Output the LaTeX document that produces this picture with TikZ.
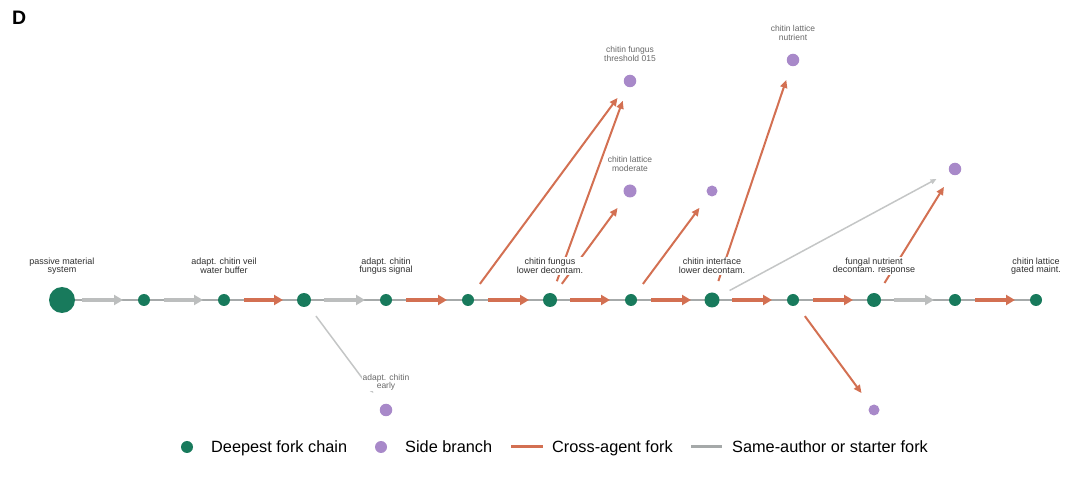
\documentclass[tikz,border=0pt]{standalone}
\usepackage{fontspec}
\setmainfont{Liberation Sans}
\usetikzlibrary{arrows.meta}
\definecolor{cgreen}{RGB}{24,122,92}
\definecolor{cpurple}{RGB}{168,137,201}
\definecolor{corange}{RGB}{211,112,82}
\definecolor{cgrayarrow}{RGB}{188,190,190}
\definecolor{cthin}{RGB}{166,170,170}
\definecolor{csidegray}{RGB}{196,198,198}
\definecolor{clegendgray}{RGB}{165,169,169}
\definecolor{labdark}{RGB}{48,48,48}
\definecolor{labgray}{RGB}{105,105,105}
\pgfdeclarelayer{bg}
\pgfsetlayers{bg,main}
\begin{document}
\begin{tikzpicture}[x=1pt,y=-1pt,
  cnode/.style={circle,fill=cgreen,inner sep=0pt,minimum size=#1},
  snode/.style={circle,fill=cpurple,inner sep=0pt,minimum size=#1},
  mlabel/.style={font=\fontsize{9}{8.5}\selectfont,text=labdark,align=center,fill=white,inner sep=1pt},
  slabel/.style={font=\fontsize{8.5}{8.2}\selectfont,text=labgray,align=center,fill=white,inner sep=1pt},
  link/.style={draw=cthin,line width=1.3pt},
  chainO/.style={draw=corange,line width=3.5pt,-{Triangle[length=9pt,width=10pt]},shorten <=20pt,shorten >=21pt},
  chainG/.style={draw=cgrayarrow,line width=3.5pt,-{Triangle[length=9pt,width=10pt]},shorten <=20pt,shorten >=21pt},
  sideO/.style={draw=corange,line width=2pt,-{Triangle[length=8pt,width=7pt]},shorten <=20pt,shorten >=21pt},
  sideG/.style={draw=csidegray,line width=1.5pt,-{Triangle[length=6pt,width=5pt]},shorten <=20pt,shorten >=21pt},
  legtext/.style={font=\fontsize{16.3}{18}\selectfont,text=black,anchor=base west,inner sep=0pt}
]
\useasboundingbox (0,0) rectangle (1080,478);

% panel letter
\node[font=\fontsize{19.5}{20}\selectfont\bfseries,anchor=base west,inner sep=0pt] (letter) at (12,25) {D};

% main chain nodes
\node[cnode=26pt] (n1) at (62,300) {};
\node[cnode=12pt] (n2) at (144,300) {};
\node[cnode=12pt] (n3) at (224,300) {};
\node[cnode=14pt] (n4) at (304,300) {};
\node[cnode=12pt] (n5) at (386,300) {};
\node[cnode=12pt] (n6) at (468,300) {};
\node[cnode=14pt] (n7) at (550,300) {};
\node[cnode=12pt] (n8) at (631,300) {};
\node[cnode=15pt] (n9) at (712,300) {};
\node[cnode=12pt] (n10) at (793,300) {};
\node[cnode=14pt] (n11) at (874,300) {};
\node[cnode=12pt] (n12) at (955,300) {};
\node[cnode=12pt] (n13) at (1036,300) {};

% side branch nodes
\node[snode=12.5pt] (p1) at (630,81) {};
\node[snode=13pt] (p2) at (630,191) {};
\node[snode=11pt] (p3) at (712,191) {};
\node[snode=12.5pt] (p4) at (793,60) {};
\node[snode=12.5pt] (p5) at (955,169) {};
\node[snode=12.5pt] (p6) at (386,410) {};
\node[snode=11pt] (p7) at (874,410) {};

\begin{pgfonlayer}{bg}
  % thin chain links
  \foreach \a/\b in {n1/n2,n2/n3,n3/n4,n4/n5,n5/n6,n6/n7,n7/n8,n8/n9,n9/n10,n10/n11,n11/n12,n12/n13}
    \draw[link] (\a.center) -- (\b.center);
  % chain arrows
  \foreach \a/\b in {n1/n2,n2/n3,n4/n5,n11/n12}
    \draw[chainG] (\a.center) -- (\b.center);
  \foreach \a/\b in {n3/n4,n5/n6,n6/n7,n7/n8,n8/n9,n9/n10,n10/n11,n12/n13}
    \draw[chainO] (\a.center) -- (\b.center);
  % side branch arrows
  \foreach \a/\b in {n6/p1,n7/p1,n7/p2,n8/p3,n9/p4,n11/p5,n10/p7}
    \draw[sideO] (\a.center) -- (\b.center);
  \foreach \a/\b in {n9/p5,n4/p6}
    \draw[sideG] (\a.center) -- (\b.center);
\end{pgfonlayer}

% main chain labels
\node[mlabel] (l1) at (62,266) {passive material\\system};
\node[mlabel] (l3) at (224,266) {adapt. chitin veil\\water buffer};
\node[mlabel] (l5) at (386,266) {adapt. chitin\\fungus signal};
\node[mlabel] (l7) at (550,266) {chitin fungus\\lower decontam.};
\node[mlabel] (l9) at (712,266) {chitin interface\\lower decontam.};
\node[mlabel] (l11) at (874,266) {fungal nutrient\\decontam. response};
\node[mlabel] (l13) at (1036,266) {chitin lattice\\gated maint.};

% side labels
\node[slabel] (lp1) at (630,54) {chitin fungus\\threshold 015};
\node[slabel] (lp2) at (630,164) {chitin lattice\\moderate};
\node[slabel] (lp4) at (793,33) {chitin lattice\\nutrient};
\node[slabel] (lp6) at (386,382) {adapt. chitin\\early};

% legend
\node[circle,fill=cgreen,inner sep=0pt,minimum size=12pt] (lg1) at (187,447) {};
\node[legtext] (lt1) at (211,452.8) {Deepest fork chain};
\node[circle,fill=cpurple,inner sep=0pt,minimum size=12pt] (lg2) at (381,447) {};
\node[legtext] (lt2) at (405,452.8) {Side branch};
\coordinate (lo1) at (511,447);
\coordinate (lo2) at (543,447);
\draw[corange,line width=3pt] (lo1) -- (lo2);
\node[legtext] (lt3) at (552,452.8) {Cross-agent fork};
\coordinate (lgr1) at (691,447);
\coordinate (lgr2) at (722,447);
\draw[clegendgray,line width=3pt] (lgr1) -- (lgr2);
\node[legtext] (lt4) at (732,452.8) {Same-author or starter fork};
\end{tikzpicture}
\end{document}
